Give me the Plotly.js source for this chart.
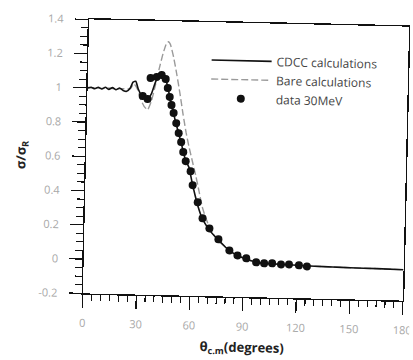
<!DOCTYPE html>
<html>
<head>
<meta charset="utf-8">
<script src="https://cdn.plot.ly/plotly-3.0.1.min.js"></script>
<style>
  html, body { margin: 0; padding: 0; background: #fff; overflow: hidden; }
  #chart { width: 413px; height: 360px; transform: rotate(1.3deg); transform-origin: 246px 160px; }
</style>
</head>
<body>
<div id="chart"></div>
<script>
// CDCC calculation curve
const cdccAngle = [0, 2, 4, 6, 8, 10, 12, 14, 16, 18, 20, 22, 24, 25.5, 27, 28.5, 30, 32, 34, 36, 38, 40, 41.5, 43, 45, 46.5, 48, 50, 52, 54, 56, 58, 60, 62, 64, 66, 68, 70, 73, 76, 80, 84, 88, 92, 96, 100, 110, 120, 130, 140, 150, 165, 180];
const cdccRatio = [1.0, 1.004, 0.996, 1.005, 0.995, 1.006, 0.994, 1.005, 0.993, 1.004, 0.99, 0.985, 1.005, 1.04, 1.045, 1.0, 0.97, 0.95, 0.945, 0.975, 1.04, 1.085, 1.095, 1.08, 1.02, 0.95, 0.89, 0.81, 0.74, 0.665, 0.59, 0.55, 0.46, 0.38, 0.31, 0.255, 0.22, 0.19, 0.155, 0.125, 0.085, 0.055, 0.035, 0.02, 0.008, 0.0, -0.004, -0.008, -0.011, -0.013, -0.015, -0.017, -0.02];

// Bare calculation curve
const bareAngle = [0, 4, 8, 12, 16, 20, 24, 26, 28, 30, 32, 34, 36, 38, 40, 42, 44, 45, 46, 48, 50, 52, 54, 56, 58, 60, 62, 64, 66, 68, 70, 72, 76, 80, 84, 88, 92, 96, 100, 110, 120, 130, 140, 150, 165, 180];
const bareRatio = [1.0, 1.002, 0.998, 1.002, 0.998, 1.0, 1.0, 1.03, 1.0, 0.94, 0.9, 0.88, 0.93, 1.02, 1.12, 1.21, 1.275, 1.28, 1.265, 1.19, 1.09, 0.98, 0.86, 0.75, 0.66, 0.58, 0.5, 0.41, 0.32, 0.26, 0.21, 0.17, 0.12, 0.085, 0.055, 0.035, 0.02, 0.008, 0.0, -0.004, -0.008, -0.011, -0.013, -0.015, -0.017, -0.02];

// Measured data at 30 MeV
const dataAngle = [31.1, 33.9, 35.3, 38.7, 41.5, 43.8, 45.1, 46.3, 47.4, 48.7, 50.3, 51.8, 53.3, 54.6, 56.1, 59.0, 60.3, 63.4, 66.3, 70.3, 75.5, 81.8, 86.4, 91.4, 97.0, 101.5, 106.0, 111.0, 115.5, 121.1, 125.6];
const dataRatio = [0.96, 0.943, 1.066, 1.073, 1.085, 1.062, 1.01, 0.958, 0.911, 0.865, 0.806, 0.748, 0.696, 0.638, 0.585, 0.527, 0.446, 0.347, 0.254, 0.196, 0.133, 0.070, 0.042, 0.026, 0.004, -0.001, 0.0, -0.005, -0.004, -0.008, -0.013];

const xTicks = [0, 30, 60, 90, 120, 150, 180];
const xTickText = ['0', '30', '60', '90', '120', '150', '180'];
const yTicks = [-0.2, 0, 0.2, 0.4, 0.6, 0.8, 1, 1.2, 1.4];
const yTickText = ['-0.2', '0', '0.2', '0.4', '0.6', '0.8', '1', '1.2', '1.4'];

const seriesNames = ['CDCC calculations', 'Bare calculations', 'data 30MeV'];

const traces = [
  {
    x: bareAngle, y: bareRatio, name: seriesNames[1], mode: 'lines',
    line: {color: '#9a9a9a', width: 1.4, dash: '7px,3px', shape: 'spline', smoothing: 0.5},
    legendrank: 2
  },
  {
    x: cdccAngle, y: cdccRatio, name: seriesNames[0], mode: 'lines',
    line: {color: '#111', width: 1.6, shape: 'spline', smoothing: 0.5},
    legendrank: 1
  },
  {
    x: dataAngle, y: dataRatio, name: seriesNames[2], mode: 'markers',
    marker: {color: '#111', size: 8, symbol: 'circle'},
    legendrank: 3
  }
];

const tickFont = {family: 'Open Sans, sans-serif', size: 11, color: '#a8a8a8'};

const layout = {
  width: 413, height: 360,
  margin: {l: 86, r: 7, t: 23, b: 63},
  paper_bgcolor: '#ffffff', plot_bgcolor: '#ffffff',
  showlegend: true,
  legend: {
    x: 0.37, y: 0.915, xanchor: 'left', yanchor: 'top',
    bgcolor: 'rgba(0,0,0,0)', borderwidth: 0,
    font: {family: 'Open Sans, sans-serif', size: 12, color: '#444'},
    itemwidth: 60, tracegroupgap: 0
  },
  xaxis: {
    range: [0, 180], showgrid: false, zeroline: false,
    showline: true, linecolor: '#111', linewidth: 1.4, mirror: true,
    ticks: 'outside', ticklen: 13, tickwidth: 1.2, tickcolor: '#111',
    tickvals: xTicks, ticktext: xTickText, tickfont: tickFont,
    ticklabelstandoff: 6, ticklabeloverflow: 'allow',
    minor: {dtick: 5, ticks: 'outside', ticklen: 6, tickwidth: 1.1, tickcolor: '#111', showgrid: false},
    title: {text: 'θ<sub>c.m</sub>(degrees)', font: {family: 'Open Sans, sans-serif', size: 13, color: '#222', weight: 'bold'}, standoff: 10}
  },
  yaxis: {
    range: [-0.2, 1.4], showgrid: false, zeroline: false,
    showline: true, linecolor: '#111', linewidth: 1.4, mirror: true,
    ticks: 'outside', ticklen: 13, tickwidth: 1.2, tickcolor: '#111',
    tickvals: yTicks, ticktext: yTickText, tickfont: tickFont,
    ticklabelstandoff: 9,
    minor: {dtick: 0.05, ticks: 'outside', ticklen: 7, tickwidth: 1.1, tickcolor: '#111', showgrid: false},
    title: {text: 'σ/σ<sub>R</sub>', font: {family: 'Open Sans, sans-serif', size: 13, color: '#222', weight: 'bold'}, standoff: 12}
  }
};

Plotly.newPlot('chart', traces, layout, {displayModeBar: false, staticPlot: true});
</script>
</body>
</html>
